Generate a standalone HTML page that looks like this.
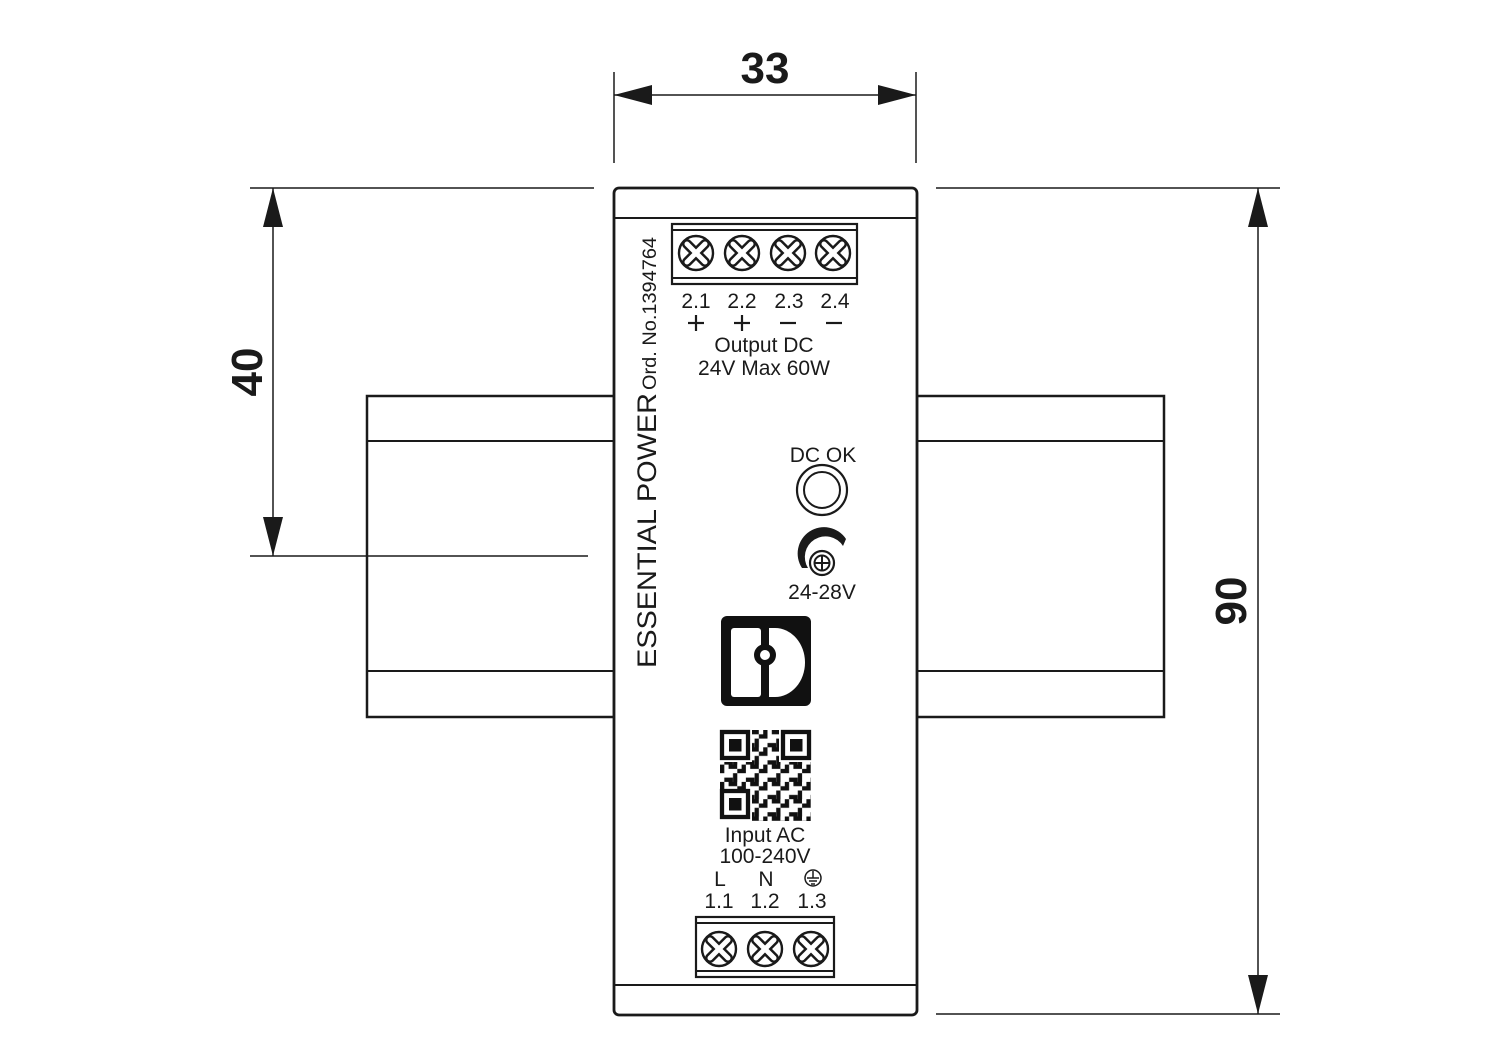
<!DOCTYPE html>
<html><head><meta charset="utf-8"><style>html,body{margin:0;padding:0;background:#fff}svg{display:block}</style></head><body>
<svg width="1500" height="1055" viewBox="0 0 1500 1055" xmlns="http://www.w3.org/2000/svg" font-family="'Liberation Sans', sans-serif">
<defs>
<g id="scr">
<circle r="17" fill="#fff" stroke="#1a1a1a" stroke-width="2.4"/>
<g stroke="#1a1a1a" stroke-width="10" stroke-linecap="round"><line x1="-9" y1="-9" x2="9" y2="9"/><line x1="-9" y1="9" x2="9" y2="-9"/></g>
<g stroke="#fff" stroke-width="5" stroke-linecap="round"><line x1="-9" y1="-9" x2="9" y2="9"/><line x1="-9" y1="9" x2="9" y2="-9"/></g>
</g>
<pattern id="qrp" width="21.6" height="17.3" patternUnits="userSpaceOnUse" x="720" y="730">
<rect x="0" y="0" width="4.3" height="8.6" fill="#111"/><rect x="8.6" y="0" width="8.6" height="4.3" fill="#111"/><rect x="13" y="8.6" width="4.3" height="8.7" fill="#111"/><rect x="4.3" y="13" width="8.6" height="4.3" fill="#111"/><rect x="17.3" y="4.3" width="4.3" height="4.3" fill="#111"/>
</pattern>
</defs>
<g stroke="#1a1a1a" fill="none">
<rect x="367" y="396" width="247" height="321" stroke-width="2.5"/>
<line x1="367" y1="441" x2="614" y2="441" stroke-width="2"/>
<line x1="367" y1="671" x2="614" y2="671" stroke-width="2"/>
<rect x="917" y="396" width="247" height="321" stroke-width="2.5"/>
<line x1="917" y1="441" x2="1164" y2="441" stroke-width="2"/>
<line x1="917" y1="671" x2="1164" y2="671" stroke-width="2"/>
<rect x="614" y="188" width="303" height="827" rx="5" fill="#fff" stroke-width="2.8"/>
<line x1="614" y1="218" x2="917" y2="218" stroke-width="2"/>
<line x1="614" y1="985" x2="917" y2="985" stroke-width="2"/>
<g stroke-width="1.5">
<line x1="614" y1="72" x2="614" y2="163"/><line x1="916" y1="72" x2="916" y2="163"/><line x1="614" y1="95" x2="916" y2="95"/>
<line x1="250" y1="188" x2="594" y2="188"/><line x1="250" y1="556" x2="588" y2="556"/><line x1="273" y1="188" x2="273" y2="556"/>
<line x1="936" y1="188" x2="1280" y2="188"/><line x1="936" y1="1014" x2="1280" y2="1014"/><line x1="1258" y1="188" x2="1258" y2="1014"/>
</g>
<rect x="672" y="224" width="185" height="60" stroke-width="2.2" fill="#fff"/>
<line x1="672" y1="230" x2="857" y2="230" stroke-width="2"/>
<line x1="672" y1="278" x2="857" y2="278" stroke-width="2"/>
<rect x="696" y="917" width="138" height="60" stroke-width="2.2" fill="#fff"/>
<line x1="696" y1="923" x2="834" y2="923" stroke-width="2"/>
<line x1="696" y1="971" x2="834" y2="971" stroke-width="2"/>
<circle cx="822" cy="490" r="25" stroke-width="2.2"/>
<circle cx="822" cy="490" r="18" stroke-width="2"/>
<circle cx="822" cy="563" r="12" stroke-width="2.2"/>
<circle cx="822" cy="563" r="7.5" stroke-width="2"/>
<line x1="822" y1="556" x2="822" y2="570" stroke-width="2"/><line x1="815" y1="563" x2="829" y2="563" stroke-width="2"/>
<g stroke-width="2.2"><line x1="688" y1="323" x2="704" y2="323"/><line x1="696" y1="315" x2="696" y2="331"/>
<line x1="734" y1="323" x2="750" y2="323"/><line x1="742" y1="315" x2="742" y2="331"/>
<line x1="780" y1="323" x2="796" y2="323"/><line x1="826" y1="323" x2="842" y2="323"/></g>
<circle cx="813" cy="878" r="8" stroke-width="1.5"/>
<g stroke-width="1.5"><line x1="813" y1="871" x2="813" y2="878"/><line x1="807" y1="878" x2="819" y2="878"/><line x1="809" y1="881" x2="817" y2="881"/><line x1="811" y1="884" x2="815" y2="884"/></g>
</g>
<path d="M802 568 A20 20 0 0 1 846 539 L843 546 A15 15 0 0 0 808 568 Z" fill="#1a1a1a"/>
<g fill="#1a1a1a">
<path d="M614 95 L652 85 L652 105 Z"/><path d="M916 95 L878 85 L878 105 Z"/>
<path d="M273 188 L263 227 L283 227 Z"/><path d="M273 556 L263 517 L283 517 Z"/>
<path d="M1258 188 L1248 227 L1268 227 Z"/><path d="M1258 1014 L1248 975 L1268 975 Z"/>
</g>
<use href="#scr" x="696" y="253"/><use href="#scr" x="742" y="253"/><use href="#scr" x="788" y="253"/><use href="#scr" x="833" y="253"/>
<use href="#scr" x="719" y="949"/><use href="#scr" x="765" y="949"/><use href="#scr" x="811" y="949"/>
<rect x="721" y="616" width="90" height="90" rx="6" fill="#111"/>
<rect x="731" y="628" width="30" height="69" rx="3" fill="#fff"/>
<path d="M769 628 L775 628 A30 34.5 0 0 1 775 697 L769 697 Z" fill="#fff"/>
<rect x="761" y="628" width="8" height="69" fill="#111"/>
<circle cx="765" cy="655" r="11" fill="#111"/>
<circle cx="765" cy="655" r="5" fill="#fff"/>
<rect x="720" y="730" width="91" height="91" fill="url(#qrp)"/>
<g fill="#fff"><rect x="720" y="730" width="32" height="32"/><rect x="779" y="730" width="32" height="32"/><rect x="720" y="789" width="32" height="32"/></g>
<g fill="none" stroke="#111" stroke-width="4.3"><rect x="722" y="732" width="26" height="26"/><rect x="783" y="732" width="26" height="26"/><rect x="722" y="791" width="26" height="26"/></g>
<g fill="#111"><rect x="729" y="739" width="12.5" height="12.5"/><rect x="790" y="739" width="12.5" height="12.5"/><rect x="729" y="798" width="12.5" height="12.5"/></g>
<g fill="#1a1a1a" font-size="21" text-anchor="middle">
<text x="696" y="308">2.1</text><text x="742" y="308">2.2</text><text x="789" y="308">2.3</text><text x="835" y="308">2.4</text>
<text x="764" y="352">Output DC</text><text x="764" y="375">24V Max 60W</text>
<text x="823" y="462">DC OK</text><text x="822" y="599">24-28V</text>
<text x="765" y="842">Input AC</text><text x="765" y="863">100-240V</text>
<text x="720" y="886">L</text><text x="766" y="886">N</text>
<text x="719" y="908">1.1</text><text x="765" y="908">1.2</text><text x="812" y="908">1.3</text>
</g>
<text transform="translate(656,668) rotate(-90)" font-size="27" fill="#1a1a1a" textLength="275" lengthAdjust="spacingAndGlyphs">ESSENTIAL POWER</text>
<text transform="translate(656,390) rotate(-90)" font-size="19" fill="#1a1a1a" textLength="153" lengthAdjust="spacingAndGlyphs">Ord. No.1394764</text>
<g font-weight="bold" font-size="44" fill="#1a1a1a" text-anchor="middle">
<text x="765" y="83">33</text>
<text transform="translate(262,372) rotate(-90)">40</text>
<text transform="translate(1246,601) rotate(-90)">90</text>
</g>
</svg>
</body></html>
